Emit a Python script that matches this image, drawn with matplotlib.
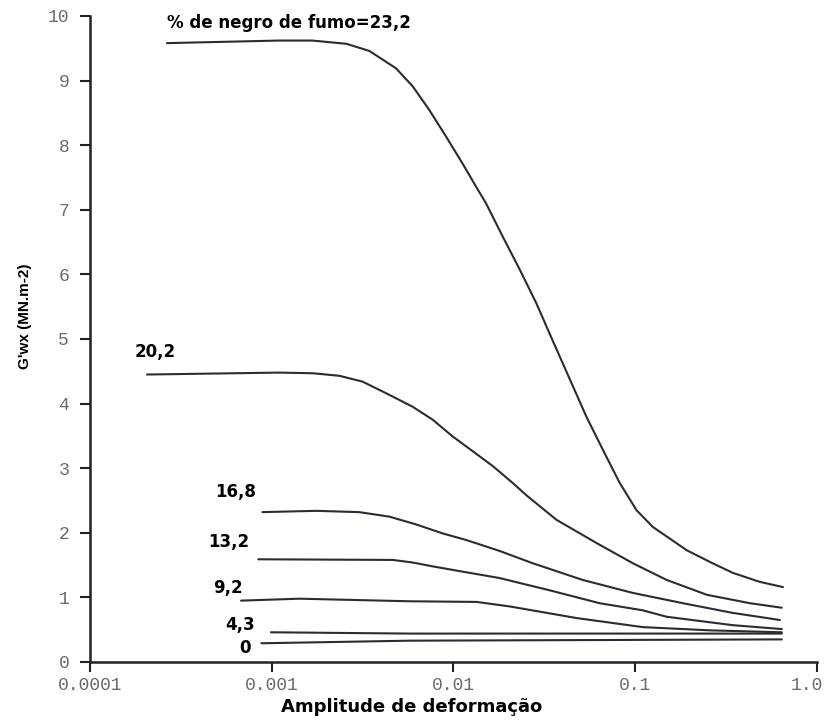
import numpy as np
import matplotlib
matplotlib.use('Agg')
import matplotlib.pyplot as plt
import matplotlib.transforms as mtransforms

# amplitude de deformacao (x) and G'wx (y)
x_232 = [2.65e-4, 1.10e-3, 1.67e-3, 2.57e-3, 3.44e-3, 4.83e-3, 5.97e-3, 7.38e-3, 9.12e-3,
         1.125e-2, 1.33e-2, 1.51e-2, 1.87e-2, 2.31e-2, 2.86e-2, 3.52e-2, 4.36e-2, 5.38e-2,
         6.65e-2, 8.22e-2, 0.1016, 0.125, 0.155, 0.192, 0.257, 0.344, 0.485, 0.65]
y_232 = [9.58, 9.62, 9.62, 9.57, 9.46, 9.19, 8.91, 8.54, 8.13,
         7.71, 7.36, 7.10, 6.58, 6.08, 5.55, 4.97, 4.38, 3.80,
         3.28, 2.77, 2.35, 2.09, 1.91, 1.73, 1.55, 1.38, 1.24, 1.16]

x_202 = [2.06e-4, 1.10e-3, 1.68e-3, 2.36e-3, 3.16e-3, 4.26e-3, 5.97e-3, 7.69e-3, 9.91e-3,
         1.28e-2, 1.65e-2, 2.12e-2, 2.52e-2, 3.69e-2, 6.14e-2, 9.68e-2, 0.149, 0.248,
         0.428, 0.64]
y_202 = [4.45, 4.48, 4.47, 4.43, 4.34, 4.16, 3.95, 3.75, 3.49,
         3.26, 3.03, 2.77, 2.58, 2.20, 1.84, 1.53, 1.27, 1.04,
         0.91, 0.84]

x_168 = [8.89e-4, 1.75e-3, 3.03e-3, 4.44e-3, 6.22e-3, 8.73e-3, 1.17e-2, 1.79e-2, 2.72e-2,
         5.14e-2, 9.68e-2, 0.183, 0.344, 0.625]
y_168 = [2.32, 2.34, 2.32, 2.25, 2.13, 1.99, 1.89, 1.72, 1.53,
         1.27, 1.07, 0.91, 0.76, 0.65]

x_132 = [8.43e-4, 4.63e-3, 5.97e-3, 7.69e-3, 1.17e-2, 1.79e-2, 3.38e-2, 6.37e-2, 0.11,
         0.149, 0.344, 0.64]
y_132 = [1.59, 1.58, 1.54, 1.48, 1.39, 1.30, 1.11, 0.91, 0.80,
         0.70, 0.57, 0.51]

x_92 = [6.78e-4, 1.42e-3, 5.73e-3, 1.34e-2, 2.04e-2, 4.76e-2, 0.11, 0.257, 0.64]
y_92 = [0.95, 0.98, 0.94, 0.93, 0.86, 0.68, 0.54, 0.49, 0.46]

x_43 = [9.9e-4, 5.73e-3, 0.64]
y_43 = [0.46, 0.44, 0.44]

x_0 = [8.77e-4, 5.73e-3, 0.64]
y_0 = [0.29, 0.33, 0.35]

curves = [(x_232, y_232), (x_202, y_202), (x_168, y_168), (x_132, y_132),
          (x_92, y_92), (x_43, y_43), (x_0, y_0)]

# curve labels: text, x, y (baseline)
labels = ['% de negro de fumo=23,2', '20,2', '16,8', '13,2', '9,2', '4,3', '0']
label_x = [2.66e-4, 1.75e-4, 4.89e-4, 4.47e-4, 4.77e-4, 5.55e-4, 6.62e-4]
label_y = [9.81, 4.72, 2.55, 1.78, 1.07, 0.50, 0.14]

xticks = [0.0001, 0.001, 0.01, 0.1, 1.0]
xtick_labels = ['0.0001', '0.001', '0.01', '0.1', '1.0']
yticks = list(range(0, 11))

fig = plt.figure(figsize=(8.29, 7.2), dpi=100)
ax = fig.add_axes([90 / 829, 1 - 662 / 720, 727 / 829, 646 / 720])

for xs, ys in curves:
    ax.plot(xs, ys, color='#2b2b33', lw=1.5, solid_capstyle='round', solid_joinstyle='round')

for t, lx, ly in zip(labels, label_x, label_y):
    ax.text(lx, ly, t, fontsize=12, fontweight='bold', family='DejaVu Sans',
            ha='left', va='baseline', color='black')

ax.set_xscale('log')
ax.set_xlim(1e-4, 1.0)
ax.set_ylim(0, 10)
ax.set_xticks(xticks)
ax.set_xticklabels(xtick_labels)
ax.set_yticks(yticks)
ax.minorticks_off()

for s in ['top', 'right']:
    ax.spines[s].set_visible(False)
for s in ['left', 'bottom']:
    ax.spines[s].set_linewidth(1.8)
    ax.spines[s].set_color('#222222')

ax.tick_params(direction='out', length=7, width=1.5, color='#222222',
               labelsize=13, labelcolor='#6a6a6a')
ax.tick_params(axis='x', pad=4)
ax.tick_params(axis='y', pad=8)
for lab in ax.get_xticklabels() + ax.get_yticklabels():
    lab.set_family('Liberation Mono')

# last x label sits a bit left of its tick in the reference
last = ax.get_xticklabels()[-1]
last.set_transform(last.get_transform() + mtransforms.ScaledTranslation(-10 / 100, 0, fig.dpi_scale_trans))

fig.text(25 / 829, 1 - 316 / 720, "G'wx (MN.m-2)", rotation=90, ha='center', va='center',
         fontsize=11, fontweight='bold', family='Liberation Sans')
fig.text(412 / 829, 1 - 707 / 720, 'Amplitude de deformação', ha='center', va='center',
         fontsize=13, fontweight='bold', family='DejaVu Sans')

fig.savefig('out.png', dpi=100)
